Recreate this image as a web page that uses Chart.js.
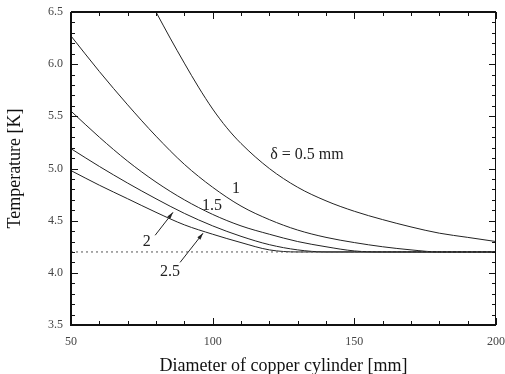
<!DOCTYPE html>
<html>
<head>
<meta charset="utf-8">
<script src="https://cdn.jsdelivr.net/npm/chart.js@4/dist/chart.umd.min.js"></script>
<style>
  html, body { margin: 0; padding: 0; background: #fff; }
  #wrap { width: 505px; height: 374px; }
</style>
</head>
<body>
<div id="wrap"><canvas id="cyl" width="505" height="374"></canvas></div>
<script>
// diameter of copper cylinder [mm]
var diam = [50, 60, 70, 80, 90, 100, 110, 120, 130, 140, 150, 160, 170, 180, 190, 200];
var diam05 = [80, 85, 90, 95, 100, 105, 110, 120, 130, 140, 150, 160, 170, 180, 190, 200];
// temperature [K] for each wall thickness delta
var t05 = [6.50, 6.25, 6.01, 5.78, 5.57, 5.39, 5.24, 5.00, 4.82, 4.69, 4.59, 4.51, 4.44, 4.38, 4.34, 4.30];
var t10 = [6.27, 5.93, 5.61, 5.31, 5.04, 4.82, 4.64, 4.51, 4.41, 4.34, 4.29, 4.25, 4.22, 4.20, 4.20, 4.20];
var t15 = [5.55, 5.30, 5.07, 4.87, 4.70, 4.56, 4.45, 4.37, 4.30, 4.25, 4.21, 4.20, 4.20, 4.20, 4.20, 4.20];
var t20 = [5.19, 5.02, 4.86, 4.71, 4.57, 4.45, 4.35, 4.27, 4.22, 4.20, 4.20, 4.20, 4.20, 4.20, 4.20, 4.20];
var t25 = [4.98, 4.84, 4.71, 4.58, 4.46, 4.37, 4.29, 4.22, 4.20, 4.20, 4.20, 4.20, 4.20, 4.20, 4.20, 4.20];
var baseT = 4.2;
var xTicks = [50, 100, 150, 200];
var yTicks = [3.5, 4.0, 4.5, 5.0, 5.5, 6.0, 6.5];

// curve labels: text, diameter, temperature
var notes = [
    ['δ = 0.5 mm', 133.3, 5.13],
    ['1', 108.2, 4.81],
    ['1.5', 99.8, 4.64],
    ['2', 76.7, 4.30],
    ['2.5', 84.9, 4.01]
];
// arrows: from (d,T) to (d,T)
var arrows = [
    [79.7, 4.36, 86.0, 4.58],
    [88.5, 4.10, 96.6, 4.38]
];

function pts(xv, vals) {
    var out = [];
    for (var i = 0; i < xv.length; i++) {
        out.push({x: xv[i], y: vals[i]});
    }
    return out;
}

var serif = '"Liberation Serif", "DejaVu Serif", serif';
var ink = '#222';

function curve(label, xv, vals) {
    return {
        label: label,
        data: pts(xv, vals),
        borderColor: ink,
        borderWidth: 1,
        pointRadius: 0,
        fill: false,
        cubicInterpolationMode: 'monotone'
    };
}

// frame, inward ticks, labels and arrows
var decor = {
    id: 'decor',
    afterDraw: function(chart) {
        var c = chart.ctx, a = chart.chartArea;
        var xs = chart.scales.x, ys = chart.scales.y;
        c.save();
        c.strokeStyle = '#111';
        c.lineWidth = 1;
        var v, p, len;
        for (v = 50; v <= 200; v += 10) {
            p = Math.round(xs.getPixelForValue(v)) + 0.5;
            len = (v % 50 === 0) ? 7 : 4;
            c.beginPath();
            c.moveTo(p, a.bottom); c.lineTo(p, a.bottom - len);
            c.moveTo(p, a.top); c.lineTo(p, a.top + len);
            c.stroke();
        }
        for (var k = 35; k <= 65; k++) {
            p = Math.round(ys.getPixelForValue(k / 10)) + 0.5;
            len = (k % 5 === 0) ? 7 : 4;
            c.beginPath();
            c.moveTo(a.left, p); c.lineTo(a.left + len, p);
            c.moveTo(a.right, p); c.lineTo(a.right - len, p);
            c.stroke();
        }
        // frame
        c.lineWidth = 2;
        c.beginPath();
        c.moveTo(a.left, a.top); c.lineTo(a.left, a.bottom); c.lineTo(a.right, a.bottom);
        c.moveTo(a.left, a.top); c.lineTo(a.right, a.top);
        c.stroke();
        c.lineWidth = 1;
        c.beginPath();
        c.moveTo(a.right - 0.5, a.top); c.lineTo(a.right - 0.5, a.bottom);
        c.stroke();

        // labels
        c.fillStyle = ink;
        c.font = '16px ' + serif;
        c.textAlign = 'center';
        c.textBaseline = 'middle';
        notes.forEach(function(n) {
            c.fillText(n[0], xs.getPixelForValue(n[1]), ys.getPixelForValue(n[2]));
        });

        // arrows
        c.strokeStyle = ink;
        c.lineWidth = 1;
        arrows.forEach(function(r) {
            var x0 = xs.getPixelForValue(r[0]), y0 = ys.getPixelForValue(r[1]);
            var x1 = xs.getPixelForValue(r[2]), y1 = ys.getPixelForValue(r[3]);
            var ang = Math.atan2(y1 - y0, x1 - x0);
            c.beginPath();
            c.moveTo(x0, y0); c.lineTo(x1, y1);
            c.stroke();
            c.beginPath();
            c.moveTo(x1, y1);
            c.lineTo(x1 - 7 * Math.cos(ang - 0.28), y1 - 7 * Math.sin(ang - 0.28));
            c.lineTo(x1 - 7 * Math.cos(ang + 0.28), y1 - 7 * Math.sin(ang + 0.28));
            c.closePath();
            c.fill();
        });
        c.restore();
    }
};

function noOverhang(s) {
    s.paddingLeft = 0; s.paddingRight = 0;
    s.paddingTop = 0; s.paddingBottom = 0;
}

var ctx = document.getElementById('cyl');
var cylChart = new Chart(ctx, {
    type: 'line',
    data: {
        datasets: [
            {
                label: 'base',
                data: [{x: 50, y: baseT}, {x: 200, y: baseT}],
                borderColor: '#555',
                borderWidth: 1,
                borderDash: [2, 3],
                pointRadius: 0,
                fill: false
            },
            curve('0.5', diam05, t05),
            curve('1', diam, t10),
            curve('1.5', diam, t15),
            curve('2', diam, t20),
            curve('2.5', diam, t25)
        ]
    },
    options: {
        responsive: false,
        animation: false,
        layout: { padding: { left: 0, top: 12, right: 9, bottom: 0 } },
        plugins: {
            legend: { display: false },
            tooltip: { enabled: false }
        },
        scales: {
            x: {
                type: 'linear',
                min: 50,
                max: 200,
                afterFit: function(s) { s.height = 49; noOverhang(s); },
                afterBuildTicks: function(s) {
                    s.ticks = xTicks.map(function(v) { return {value: v}; });
                },
                grid: { display: false, drawTicks: false },
                border: { display: false },
                ticks: {
                    padding: 10,
                    color: '#444',
                    font: { family: serif, size: 12 }
                },
                title: {
                    display: true,
                    text: 'Diameter of copper cylinder [mm]',
                    color: '#111',
                    padding: { top: 0, bottom: -3 },
                    font: { family: serif, size: 18 }
                }
            },
            y: {
                type: 'linear',
                min: 3.5,
                max: 6.5,
                afterFit: function(s) { s.width = 71; noOverhang(s); },
                afterBuildTicks: function(s) {
                    s.ticks = yTicks.map(function(v) { return {value: v}; });
                },
                grid: { display: false, drawTicks: false },
                border: { display: false },
                ticks: {
                    padding: 8,
                    color: '#444',
                    font: { family: serif, size: 12 },
                    callback: function(v) { return Number(v).toFixed(1); }
                },
                title: {
                    display: true,
                    text: 'Temperature [K]',
                    color: '#111',
                    padding: { top: 4, bottom: 0 },
                    font: { family: serif, size: 18 }
                }
            }
        }
    },
    plugins: [decor]
});
</script>
</body>
</html>
